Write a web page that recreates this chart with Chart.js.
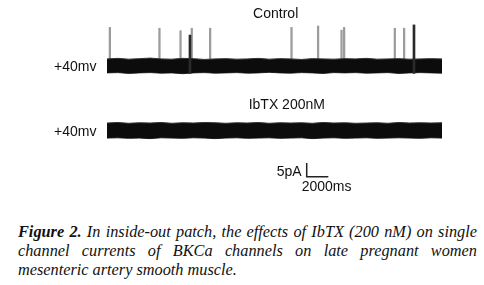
<!DOCTYPE html>
<html>
<head>
<meta charset="utf-8">
<script src="https://cdn.jsdelivr.net/npm/chart.js@4.4.1/dist/chart.umd.min.js"></script>
<style>
  html, body { margin: 0; padding: 0; background: #fff; }
  #wrap { position: relative; width: 484px; height: 285px; overflow: hidden; }
  #trace { position: absolute; left: 0; top: 0; }
  .lbl { position: absolute; font-family: "Liberation Sans", Arial, sans-serif; font-size: 14px; line-height: 14px; color: #111; white-space: nowrap; }
  .ctr { width: 200px; text-align: center; }
  #cap { position: absolute; left: 18px; top: 221.7px; width: 459px; font-family: "Liberation Serif", "Times New Roman", serif; font-style: italic; font-size: 16.3px; line-height: 19px; color: #111; }
  .j { text-align: justify; text-align-last: justify; }
</style>
</head>
<body>
<div id="wrap">
  <canvas id="trace" width="484" height="200"></canvas>
  <div class="lbl ctr" style="left:175.7px; top:6.4px;">Control</div>
  <div class="lbl" style="left:54px; top:59.2px;">+40mv</div>
  <div class="lbl ctr" style="left:186.8px; top:97.2px;">IbTX 200nM</div>
  <div class="lbl" style="left:54px; top:123.9px;">+40mv</div>
  <div class="lbl" style="left:276.7px; top:164.2px;">5pA</div>
  <div class="lbl" style="left:301.7px; top:178.7px;">2000ms</div>
  <div id="cap">
    <div class="j"><b>Figure 2.</b> In inside-out patch, the effects of IbTX (200 nM) on single</div>
    <div class="j">channel currents of BKCa channels on late pregnant women</div>
    <div>mesenteric artery smooth muscle.</div>
  </div>
</div>
<script>
// DATA (time in ms, current in pA)
const noiseTimes = [0, 1000, 2000, 3000, 4000, 5000, 6000, 7000, 8000, 9000, 10000, 11000, 12000, 13000, 14000, 15000,
                    16000, 17000, 18000, 19000, 20000, 21000, 22000, 23000, 24000, 25000, 26000, 27000, 28000, 29000, 30000, 31000];
const controlUpper = [2.5, 2.7, 2.4, 2.6, 2.8, 2.5, 2.4, 2.7, 2.6, 2.3, 2.5, 2.6, 2.4, 2.5, 2.7, 2.4,
                      2.6, 2.5, 2.3, 2.6, 2.5, 2.4, 2.6, 2.5, 2.7, 2.4, 2.5, 2.6, 2.4, 2.5, 2.6, 2.5];
const controlLower = [-2.6, -2.5, -2.8, -2.6, -2.5, -2.7, -2.6, -2.9, -2.6, -2.5, -2.7, -2.6, -2.5, -2.7, -2.6, -2.4,
                      -2.6, -2.7, -2.5, -2.6, -2.8, -2.5, -2.6, -2.5, -2.7, -2.6, -2.5, -2.8, -2.6, -2.5, -2.6, -2.7];
const ibtxUpper = [2.7, 2.9, 2.6, 2.8, 2.7, 2.9, 2.6, 2.8, 2.7, 2.9, 2.8, 2.6, 2.8, 2.7, 2.9, 2.6,
                   2.8, 2.7, 2.8, 2.6, 2.9, 2.7, 2.8, 2.6, 2.7, 2.8, 2.6, 2.9, 2.7, 2.8, 2.7, 2.8];
const ibtxLower = [-2.8, -2.7, -2.9, -2.8, -3.0, -2.7, -2.8, -2.9, -2.7, -2.8, -3.0, -2.8, -2.7, -2.9, -2.8, -2.7,
                   -2.9, -2.8, -2.7, -3.0, -2.8, -2.7, -2.9, -2.8, -2.7, -2.9, -2.8, -2.7, -2.8, -2.9, -2.7, -2.8];

// single channel openings in the control trace
const openTimes = [190, 4780, 6730, 7770, 9470, 17000, 19460, 21630, 21870, 26560, 27420];
const openAmps  = [14.0, 13.7, 12.8, 13.7, 13.7, 14.0, 14.5, 13.0, 14.0, 13.7, 13.7];
// darker (longer) openings
const longTimes = [7770, 28500];
const longHigh  = [11.2, 14.9];
const longLow   = [-2.8, -2.8];

// scale bar
const scaleTime = 2000;   // ms
const scaleAmp  = 5;      // pA

// layout constants
const ibtxOffset = -23.6;
const scaleX = 18480, scaleY = -40.5;

const pts = (ts, vs, off) => ts.map((t, i) => ({ x: t, y: vs[i] + off }));

new Chart(document.getElementById('trace'), {
    type: 'line',
    data: {
        datasets: [
            { // 0 control band upper
                data: pts(noiseTimes, controlUpper, 0),
                borderColor: '#333', borderWidth: 1, backgroundColor: '#0c0c0c',
                pointRadius: 0, fill: '+1', order: 1
            },
            { // 1 control band lower
                data: pts(noiseTimes, controlLower, 0),
                borderColor: '#333', borderWidth: 1, pointRadius: 0, fill: false, order: 1
            },
            { // 2 ibtx band upper
                data: pts(noiseTimes, ibtxUpper, ibtxOffset),
                borderColor: '#333', borderWidth: 1, backgroundColor: '#0c0c0c',
                pointRadius: 0, fill: '+1', order: 1
            },
            { // 3 ibtx band lower
                data: pts(noiseTimes, ibtxLower, ibtxOffset),
                borderColor: '#333', borderWidth: 1, pointRadius: 0, fill: false, order: 1
            },
            { // openings
                type: 'bar',
                data: openTimes.map((t, i) => ({ x: t, y: [0, openAmps[i]] })),
                backgroundColor: '#9c9c9c', barThickness: 1.6, order: 2
            },
            { // long openings
                type: 'bar',
                data: longTimes.map((t, i) => ({ x: t, y: [longLow[i], longHigh[i]] })),
                backgroundColor: '#2a2a2a', barThickness: 2, order: 0
            },
            { // scale bar
                data: [
                    { x: scaleX + scaleTime, y: scaleY },
                    { x: scaleX, y: scaleY },
                    { x: scaleX, y: scaleY + scaleAmp }
                ],
                borderColor: '#222', borderWidth: 1.5, pointRadius: 0, fill: false, order: 0
            }
        ]
    },
    options: {
        responsive: false,
        animation: false,
        layout: { padding: { left: 107, right: 42, top: 0, bottom: 0 } },
        plugins: { legend: { display: false }, tooltip: { enabled: false } },
        scales: {
            x: { type: 'linear', min: 0, max: 31000, offset: false, display: false },
            y: { type: 'linear', min: -49, max: 24, display: false }
        }
    }
});
</script>
</body>
</html>
